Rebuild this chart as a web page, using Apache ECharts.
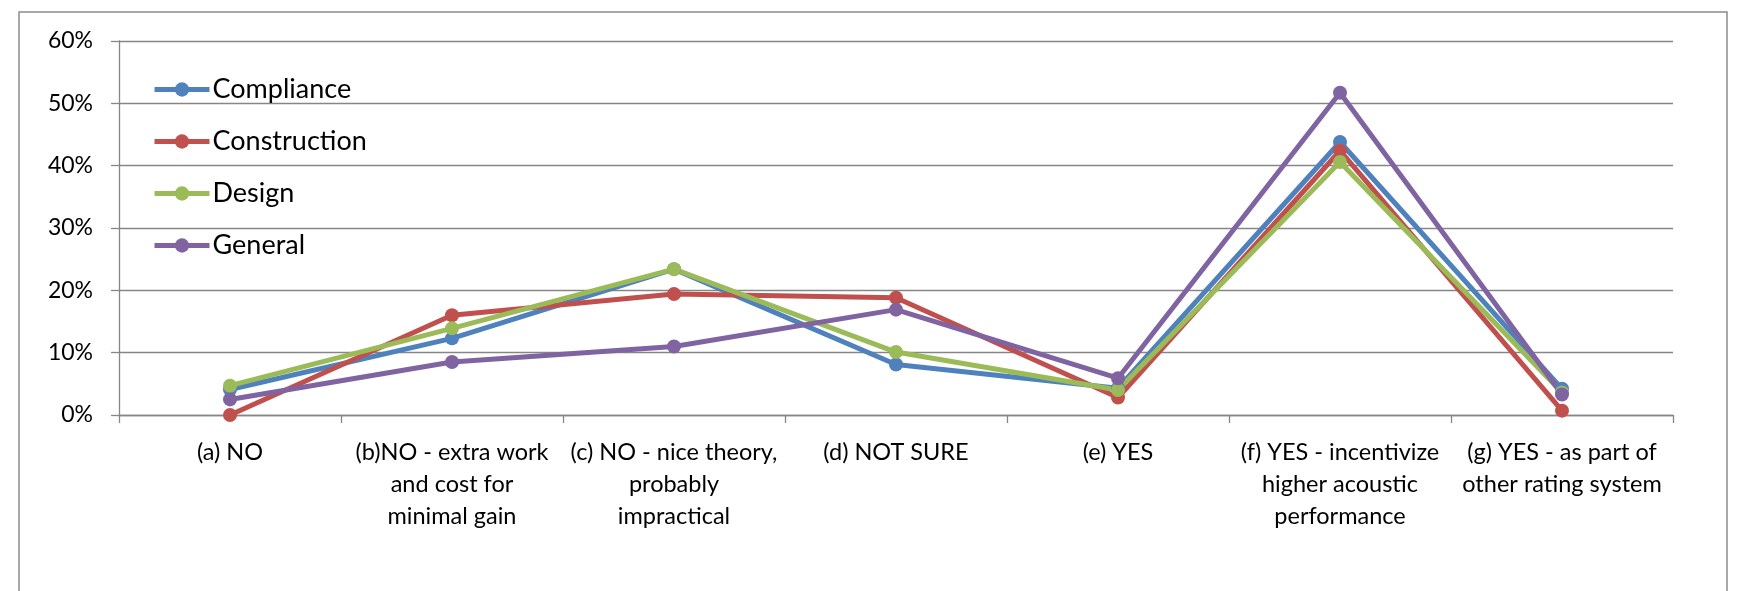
<!DOCTYPE html>
<html>
<head>
<meta charset="utf-8">
<script src="https://cdn.jsdelivr.net/npm/echarts@6/dist/echarts.min.js"></script>
<style>
html,body{margin:0;padding:0;background:#fff;}
#chart{width:1739px;height:591px;}
</style>
</head>
<body>
<div id="chart"></div>
<script>
var categories = [
  "(a) NO",
  "(b)NO - extra work\nand cost for\nminimal gain",
  "(c) NO - nice theory,\nprobably\nimpractical",
  "(d) NOT SURE",
  "(e) YES",
  "(f) YES - incentivize\nhigher acoustic\nperformance",
  "(g) YES - as part of\nother rating system"
];
var compliance   = [4.1, 12.3, 23.4, 8.1, 4.3, 43.8, 4.2];
var construction = [0.0, 16.0, 19.4, 18.8, 2.8, 42.4, 0.7];
var design       = [4.7, 13.9, 23.4, 10.1, 4.0, 40.6, 3.6];
var general      = [2.5, 8.5, 11.0, 16.9, 5.9, 51.7, 3.3];
var yTicks = [0, 10, 20, 30, 40, 50, 60];

var FONT = 'Lato';
var colors = ['#4F81BD', '#C0504D', '#9BBB59', '#8064A2'];
var chart = echarts.init(document.getElementById('chart'), null, {renderer: 'canvas'});

function mk(name, data, c) {
  return {
    name: name, type: 'line', data: data,
    symbol: 'circle', symbolSize: 14,
    lineStyle: {width: 5, color: c},
    itemStyle: {color: c},
    emphasis: {disabled: true},
    animation: false
  };
}

chart.setOption({
  animation: false,
  color: colors,
  graphic: [{
    type: 'rect', shape: {x: 19, y: 12, width: 1708, height: 600},
    style: {fill: 'none', stroke: '#8c8c8c', lineWidth: 1.5}, silent: true
  }],
  grid: {left: 119, right: 66, top: 41, bottom: 176, containLabel: false},
  legend: {
    orient: 'vertical', left: 152, top: 76, padding: 0,
    itemWidth: 55, itemHeight: 18, itemGap: 25,
    lineStyle: {width: 5},
    textStyle: {fontFamily: FONT, fontSize: 27, color: '#000', lineHeight: 18, padding: [0,0,0,-2]},
    data: ['Compliance', 'Construction', 'Design', 'General']
  },
  xAxis: {
    type: 'category', data: categories, boundaryGap: true,
    axisLine: {lineStyle: {color: '#868686', width: 1.3}},
    axisTick: {show: true, length: 8, lineStyle: {color: '#868686', width: 1.3}},
    axisLabel: {fontFamily: FONT, fontSize: 23.5, color: '#000', lineHeight: 32, margin: 21, interval: 0}
  },
  yAxis: {
    type: 'value', min: 0, max: 60, interval: 10,
    axisLine: {show: true, lineStyle: {color: '#868686', width: 1.3}},
    axisTick: {show: true, length: 8, lineStyle: {color: '#868686', width: 1.3}},
    splitLine: {lineStyle: {color: '#868686', width: 1.3}},
    axisLabel: {fontFamily: FONT, fontSize: 23, color: '#000', margin: 26,
      formatter: function (v) { return yTicks.indexOf(v) >= 0 ? v + '%' : ''; }}
  },
  series: [
    mk('Compliance', compliance, colors[0]),
    mk('Construction', construction, colors[1]),
    mk('Design', design, colors[2]),
    mk('General', general, colors[3])
  ]
});
</script>
</body>
</html>
